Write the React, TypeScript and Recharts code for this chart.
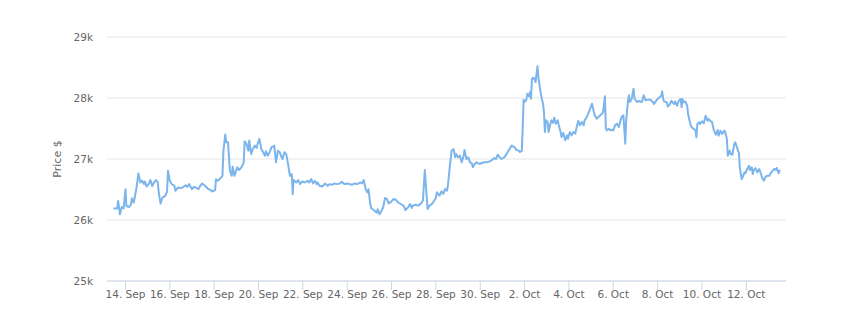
import React from 'react';
import { LineChart, Line, XAxis, YAxis, CartesianGrid } from 'recharts';

// hours counted from 13 Sep 2023 00:00
const hours = [
  11, 15, 16, 18, 20, 22, 24, 25, 28, 30, 31, 33, 34, 36, 38, 40, 42, 44, 45, 47,
  49, 51, 53, 55, 57, 59, 60, 62, 64, 67, 69, 70, 72, 74, 77, 78, 81, 84, 87, 89,
  91, 93, 96, 98, 100, 103, 105, 107, 110, 113, 116, 118, 121, 122, 124, 127, 129, 130, 132, 133,
  135, 137, 139, 140, 142, 145, 147, 150, 152, 153, 155,
  157, 158, 160, 162, 164, 166, 167, 169, 171, 173, 175, 176, 178, 180, 182, 184, 185, 187, 189, 191,
  193, 194, 196, 198, 200, 202, 204, 205, 206, 209, 211, 213, 215, 218, 221, 223, 225, 227, 229, 231,
  232, 234, 237, 240, 243, 245, 248, 250, 253, 256, 258, 261, 264, 267, 269, 272, 275, 278, 280, 282,
  284, 286, 287, 289, 290, 293, 296, 297, 299, 301,
  303, 305, 307, 309, 312, 314, 317, 319, 322, 325, 327, 330, 332, 334, 335, 338, 341, 343, 344, 346,
  348, 349, 351, 353, 355, 357, 360, 361, 364, 366, 368, 370, 372, 373, 375, 377, 379, 381, 382, 384,
  386, 388, 390, 391, 393, 395, 397, 399, 400, 402, 404, 407, 410, 412, 415, 418, 420, 423, 425, 427,
  429, 431, 434, 437, 439, 442, 444, 446, 447,
  449, 451, 453, 454, 455, 456, 458, 459, 461, 462, 463, 464, 466, 468, 469, 470, 471, 473, 475, 476,
  477, 478, 479, 481, 482, 484, 485, 487, 488, 490, 492, 493, 495, 496, 498, 500, 502, 503, 505, 507,
  509, 511, 512, 514, 516, 518, 520, 521, 523, 525, 527, 529, 531, 532, 534, 536, 538, 540, 541, 543,
  544, 545, 547, 549, 551, 552, 554, 556, 558, 560, 561, 563, 565, 566, 568, 569, 570, 572, 574, 575,
  578, 580, 583, 585, 587, 590, 592, 595,
  596, 598, 600, 602, 604, 605, 606, 607, 610, 611, 613, 615, 616, 618, 619, 621, 623, 625, 626, 627,
  628, 630, 632, 633, 635, 636, 637, 639, 641, 642, 643, 645, 646, 648, 650, 652, 654, 655, 657, 659,
  661, 663, 665, 666, 668, 670, 672, 673, 675, 676, 678, 679, 681, 683, 684, 686, 687, 688, 689, 691,
  692, 694, 695, 697, 699, 700, 702, 703, 704, 706, 708, 710, 712, 713, 715, 717, 719, 721, 723, 724,
  726, 728, 729, 731, 732, 733,
];

const prices = [
  26187, 26190, 26313, 26093, 26214, 26190, 26505, 26230, 26214, 26258, 26357, 26286, 26368, 26533, 26764, 26615, 26643, 26588, 26632, 26549,
  26588, 26654, 26555, 26615, 26654, 26615, 26451, 26269, 26368, 26396, 26467, 26808, 26643, 26588, 26560, 26478, 26533, 26522, 26544, 26571,
  26544, 26588, 26505, 26544, 26533, 26505, 26560, 26599, 26560, 26516, 26489, 26467, 26489, 26670, 26643, 26687, 26725, 27126, 27401, 27275,
  27275, 26808, 26725, 26874, 26725, 26863, 26819, 26874, 26945, 27291, 27247,
  27137, 27302, 27082, 27165, 27220, 27181, 27247, 27330, 27165, 27110, 27055, 27126, 27055, 27110, 27192, 27203, 27220, 26945, 27137, 27110,
  27027, 27000, 27110, 27082, 26918, 26725, 26753, 26423, 26654, 26615, 26654, 26588, 26632, 26615, 26643, 26615, 26670, 26599, 26643, 26588,
  26615, 26560, 26549, 26599, 26560, 26588, 26577, 26599, 26588, 26599, 26626, 26588, 26599, 26588, 26577, 26599, 26588, 26615, 26599, 26654,
  26505, 26451, 26505, 26258, 26192, 26159, 26121, 26176, 26093, 26148,
  26208, 26361, 26344, 26273, 26306, 26344, 26328, 26290, 26262, 26235, 26164, 26208, 26262, 26197, 26235, 26251, 26235, 26262, 26273, 26317,
  26820, 26617, 26180, 26235, 26251, 26290, 26361, 26454, 26399, 26470, 26426, 26508, 26481, 26563, 26863, 27137, 27164, 27027, 27082, 27027,
  27055, 26945, 27055, 27148, 27000, 27027, 26945, 26929, 26863, 26918, 26945, 26918, 26934, 26945, 26945, 26962, 26973, 27016, 27000, 27071,
  27027, 27000, 27027, 27093, 27148, 27219, 27202, 27180, 27148,
  27142, 27115, 27131, 27525, 27973, 27934, 27973, 28071, 28027, 28098, 27989, 28317, 28333, 28262, 28399, 28519, 28344, 28126, 27962, 27907,
  27770, 27443, 27634, 27607, 27443, 27579, 27634, 27590, 27678, 27579, 27634, 27552, 27443, 27361, 27426, 27306, 27388, 27333, 27443, 27388,
  27443, 27415, 27497, 27623, 27552, 27607, 27552, 27634, 27678, 27743, 27825, 27907, 27770, 27716, 27661, 27689, 27716, 27743, 27770, 28027,
  27497, 27470, 27497, 27470, 27481, 27470, 27552, 27579, 27525, 27634, 27689, 27716, 27251, 27634, 27962, 28044, 27934, 27989, 28153, 27989,
  27934, 27951, 27934, 28044, 27962, 27973, 27973, 27934,
  27902, 27945, 27984, 28011, 28038, 28109, 27984, 27945, 27929, 27858, 27891, 27956, 27929, 27902, 27945, 27874, 27956, 27984, 27847, 27984,
  27929, 27945, 27874, 27738, 27601, 27546, 27519, 27492, 27475, 27355, 27574, 27601, 27574, 27617, 27585, 27710, 27628, 27656, 27628, 27601,
  27464, 27399, 27475, 27383, 27464, 27410, 27464, 27454, 27328, 27055, 27137, 27082, 27071, 27246, 27273, 27191, 27137, 27109, 26863, 26672,
  26699, 26781, 26765, 26836, 26891, 26820, 26863, 26754, 26809, 26852, 26781, 26836, 26754, 26699, 26645, 26710, 26727, 26727, 26781, 26798,
  26836, 26820, 26852, 26765, 26809, 26809,
];

const tickHours = [24, 72, 120, 168, 216, 264, 312, 360, 408, 456, 504, 552, 600, 648, 696];
const tickLabels = [
  '14. Sep', '16. Sep', '18. Sep', '20. Sep', '22. Sep', '24. Sep', '26. Sep', '28. Sep',
  '30. Sep', '2. Oct', '4. Oct', '6. Oct', '8. Oct', '10. Oct', '12. Oct',
];
const priceTicks = [25000, 26000, 27000, 28000, 29000];

const data = hours.map((t, i) => ({ t, price: prices[i] }));

const font = '"DejaVu Sans", sans-serif';

export default function App() {
  return (
    <LineChart
      width={831}
      height={298}
      data={data}
      margin={{ top: 29, right: 53, bottom: 0, left: 0 }}
    >
      <CartesianGrid vertical={false} stroke="#e6e6e6" />
      <XAxis
        dataKey="t"
        type="number"
        domain={[4, 739]}
        allowDataOverflow
        ticks={tickHours}
        interval={0}
        tickFormatter={(v: number) => tickLabels[tickHours.indexOf(v)]}
        stroke="#ccd6eb"
        tickSize={9}
        tickMargin={1}
        height={25}
        tick={{ fill: '#666666', fontSize: 10.5, fontFamily: font }}
      />
      <YAxis
        domain={[25000, 29000]}
        ticks={priceTicks}
        interval={0}
        axisLine={false}
        tickLine={false}
        tickSize={0}
        tickMargin={14}
        width={99}
        tickFormatter={(v: number) => `${v / 1000}k`}
        tick={{ fill: '#666666', fontSize: 10.5, fontFamily: font }}
        label={{
          value: 'Price $', angle: -90, position: 'center',
          fill: '#666666', fontSize: 11, fontFamily: font,
        }}
      />
      <Line
        type="linear"
        dataKey="price"
        stroke="#7cb5ec"
        strokeWidth={2}
        strokeLinejoin="round"
        dot={false}
        isAnimationActive={false}
      />
    </LineChart>
  );
}
